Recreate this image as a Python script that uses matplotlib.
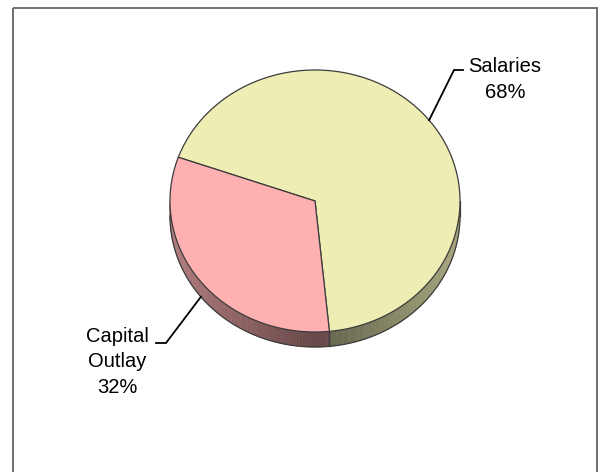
import numpy as np
import matplotlib
matplotlib.use("Agg")
import matplotlib.pyplot as plt
from matplotlib.collections import PolyCollection
from matplotlib.patches import Rectangle

# Budget split
categories = ["Salaries", "Capital Outlay"]
shares = [68, 32]
top_colors = ["#EEEDB3", "#FFB0B1"]

plt.rcParams["font.family"] = ["Liberation Sans", "DejaVu Sans"]

W, H = 600, 472
fig = plt.figure(figsize=(W / 100, H / 100), dpi=100)
ax = fig.add_axes([0, 0, 1, 1])
ax.set_xlim(0, W)
ax.set_ylim(H, 0)
ax.axis("off")

# outer frame
ax.add_patch(Rectangle((12.5, 8), 584, 480, fill=False, edgecolor="#707070",
                       linewidth=1.4, zorder=1))

# pie geometry (tilted disc)
cx, cy = 315.0, 201.0
rx, ry = 145.0, 131.0
depth = 15.0
start = 160.5  # degrees, slices run clockwise
edge = "#3c3c3c"


def pt(t_deg, dz=0.0):
    t = np.radians(t_deg)
    return cx + rx * np.cos(t), cy - ry * np.sin(t) + dz


def shade(color, t_deg):
    rgb = np.array(matplotlib.colors.to_rgb(color))
    f = 0.40 + 0.30 * abs(np.cos(np.radians(t_deg)))
    return tuple(np.clip(rgb * f, 0, 1))


total = float(sum(shares))
bounds = []
a0 = start
for s in shares:
    a1 = a0 - 360.0 * s / total
    bounds.append((a0, a1))
    a0 = a1

# side walls: only the front half (180..360 deg) is visible
for (a0, a1), col in zip(bounds, top_colors):
    hi, lo = a0, a1
    segs = []
    for shift in (-720, -360, 0, 360):
        h, l = hi + shift, lo + shift
        s_lo, s_hi = max(l, 180.0), min(h, 360.0)
        if s_hi > s_lo:
            segs.append((s_lo, s_hi))
    for s_lo, s_hi in segs:
        ts = np.linspace(s_lo, s_hi, 90)
        quads, cols = [], []
        for t1, t2 in zip(ts[:-1], ts[1:]):
            p1, p2 = pt(t1), pt(t2)
            q1, q2 = pt(t2, depth), pt(t1, depth)
            quads.append([p1, p2, q1, q2])
            cols.append(shade(col, 0.5 * (t1 + t2)))
        ax.add_collection(PolyCollection(quads, facecolors=cols, edgecolors=cols,
                                         linewidths=0.4, zorder=2))
        bx = [pt(t, depth)[0] for t in ts]
        by = [pt(t, depth)[1] for t in ts]
        ax.plot(bx, by, color=edge, lw=0.9, zorder=3)
        for t in (s_lo, s_hi):
            if 180.0 < t < 360.0:
                x0, y0 = pt(t)
                ax.plot([x0, x0], [y0, y0 + depth], color=edge, lw=0.9, zorder=3)

# outer vertical edges of the disc
for t in (180.0, 360.0):
    x0, y0 = pt(t)
    ax.plot([x0, x0], [y0, y0 + depth], color=edge, lw=0.9, zorder=3)

# top faces
for (a0, a1), col in zip(bounds, top_colors):
    ts = np.linspace(a0, a1, 200)
    xs = [cx] + [pt(t)[0] for t in ts] + [cx]
    ys = [cy] + [pt(t)[1] for t in ts] + [cy]
    ax.fill(xs, ys, facecolor=col, edgecolor=edge, linewidth=0.9, zorder=4)

# labels with leader lines (text anchored at the baseline of its last line)
label_cfg = [
    dict(elbow=(454, 70), tail=(463, 70), text=(505, 98), dz=0.0),
    dict(elbow=(166, 343), tail=(156, 343), text=(117, 393), dz=depth),
]
for (a0, a1), name, s, cfg in zip(bounds, categories, shares, label_cfg):
    mid = 0.5 * (a0 + a1)
    x0, y0 = pt(mid, cfg["dz"])
    ex, ey = cfg["elbow"]
    tx, ty = cfg["tail"]
    ax.plot([x0, ex, tx], [y0, ey, ty], color="black", lw=1.3, zorder=5,
            solid_joinstyle="miter")
    txt = name.replace(" ", "\n") + f"\n{s}%"
    ax.text(cfg["text"][0], cfg["text"][1], txt, ha="center", va="baseline",
            multialignment="center", fontsize=14.5, linespacing=1.45,
            color="black", zorder=6)

fig.savefig("out.png", dpi=100)
